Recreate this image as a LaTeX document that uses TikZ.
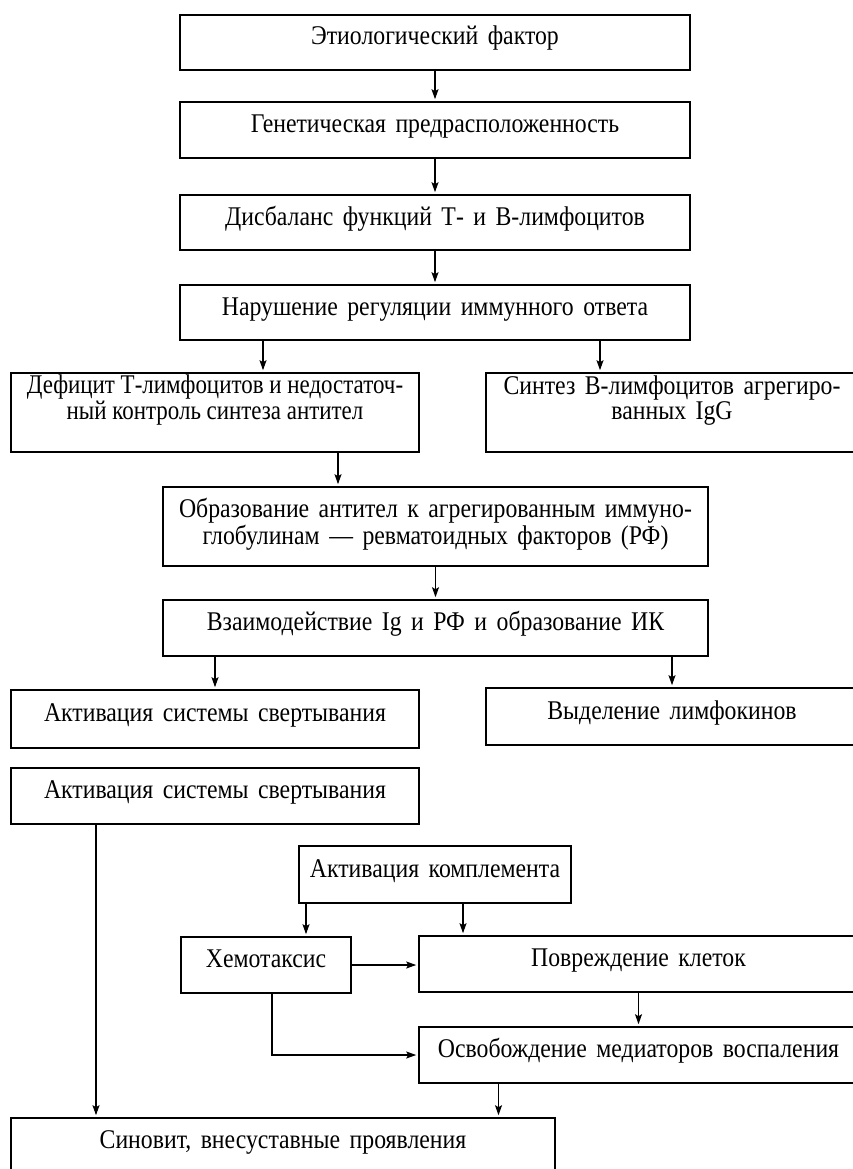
\documentclass[tikz,border=0pt]{standalone}
\usepackage{fontspec}
\setmainfont{Liberation Serif}[FakeStretch=0.88,WordSpace=1.6]
\newfontfamily\tightfont{Liberation Serif}[FakeStretch=0.85]
\usetikzlibrary{arrows.meta}
\begin{document}
\begin{tikzpicture}[x=1pt,y=-1pt,
    box/.style 2 args={draw,line width=1.6pt,inner sep=0pt,align=center,
      minimum width=#1,minimum height=#2,text height=19pt,text depth=14pt,
      font=\fontsize{27}{23}\selectfont}]
  \useasboundingbox (0,0) rectangle (853,1169);
  \path
    (435,42.5) node[box={510pt}{55pt}] (0) {Этиологический фактор}
    (435,130) node[box={510pt}{56pt}] (1) {Генетическая предрасположенность}
    (435,222.5) node[box={510pt}{55pt}] (2) {Дисбаланс функций Т- и В-лимфоцитов}
    (435,312.5) node[box={510pt}{55pt}] (3) {Нарушение регуляции иммунного ответа}
    (215,412.5) node[box={408pt}{79pt},text height=27pt,font=\tightfont\fontsize{27}{23}\selectfont] (4) {Дефицит Т-лимфоцитов и недостаточ-\\ный контроль синтеза антител}
    (672,412.5) node[box={372pt}{79pt},text height=27pt] (5) {Синтез В-лимфоцитов агрегиро-\\ванных IgG}
    (435.5,526.5) node[box={545pt}{79pt},text height=49pt] (6) {Образование антител к агрегированным иммуно-\\глобулинам — ревматоидных факторов (РФ)}
    (435.5,628) node[box={545pt}{56pt}] (7) {Взаимодействие Ig и РФ и образование ИК}
    (215,719) node[box={408pt}{58pt}] (8) {Активация системы свертывания}
    (672,716.5) node[box={372pt}{57pt}] (9) {Выделение лимфокинов}
    (215,796) node[box={408pt}{56pt}] (10) {Активация системы свертывания}
    (435,874.5) node[box={272pt}{57pt}] (11) {Активация комплемента}
    (266,965) node[box={170pt}{56pt}] (12) {Хемотаксис}
    (638.5,964) node[box={439pt}{56pt}] (13) {Повреждение клеток}
    (638.5,1055) node[box={439pt}{56pt}] (14) {Освобождение медиаторов воспаления}
    (283,1146) node[box={544pt}{56pt}] (15) {Синовит, внесуставные проявления};
  \begin{scope}[-{Stealth[length=10pt,width=7pt,inset=2pt]},line width=1.2pt,shorten >=2pt]
    \draw (0) to (1);
    \draw (1) to (2);
    \draw (2) to (3);
    \draw ([xshift=-172pt]3.south) to ([xshift=-172pt]3.south |- 4.north);
    \draw ([xshift=165pt]3.south) to ([xshift=165pt]3.south |- 5.north);
    \draw ([xshift=123pt]4.south) to ([xshift=123pt]4.south |- 6.north);
    \draw (6) to (7);
    \draw (7.south -| 8.north) to (8.north);
    \draw (7.south -| 9.north) to (9.north);
    \draw ([xshift=-119pt]10.south) to ([xshift=-119pt]10.south |- 15.north);
    \draw ([xshift=-129pt]11.south) to ([xshift=-129pt]11.south |- 12.north);
    \draw ([xshift=28pt]11.south) to ([xshift=28pt]11.south |- 13.north);
    \draw (12.east) to (12.east -| 13.west);
    \draw (13) to (14);
    \draw ([xshift=6pt]12.south) |- (14.west);
    \draw ([xshift=-140pt]14.south) to ([xshift=-140pt]14.south |- 15.north);
  \end{scope}
\end{tikzpicture}
\end{document}
